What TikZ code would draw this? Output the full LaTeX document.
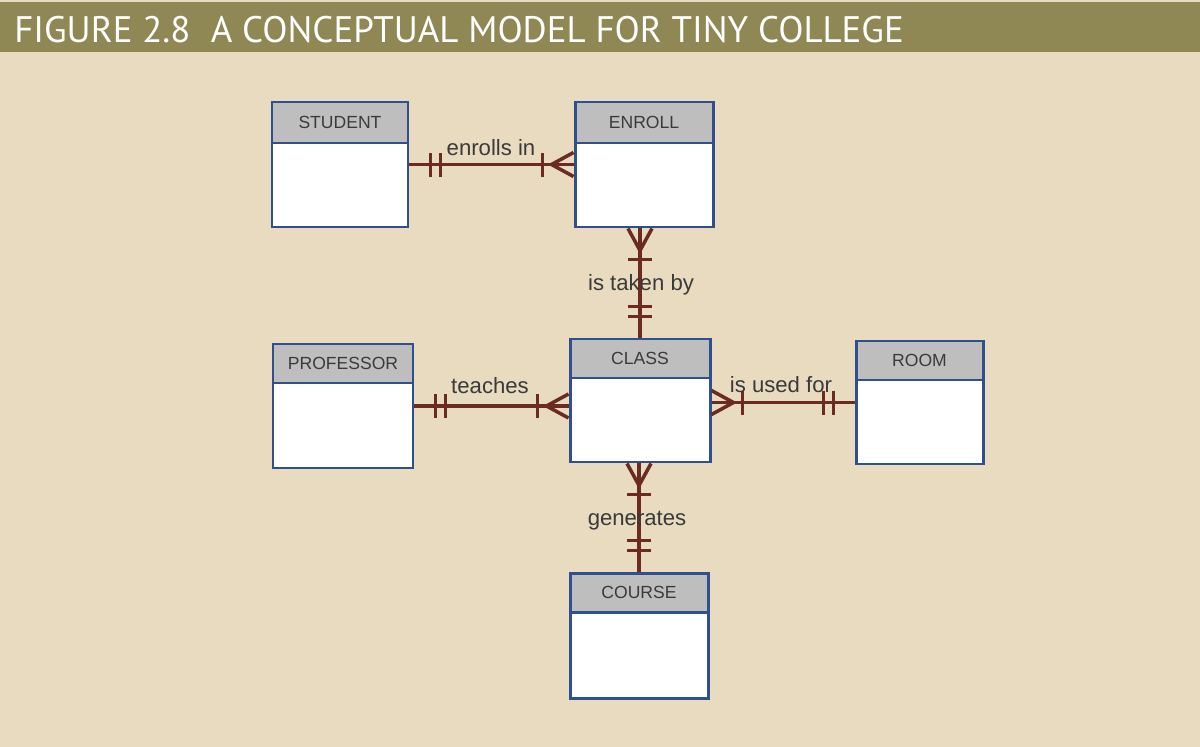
\documentclass[tikz,border=0pt]{standalone}
\usepackage{fontspec}
\setmainfont{Liberation Sans}
\newfontfamily\titlefont{PT Sans}
\usetikzlibrary{fit,calc,decorations.markings}
\definecolor{bgbeige}{HTML}{E8DBC0}
\definecolor{barolive}{HTML}{8F8855}
\definecolor{boxblue}{HTML}{2F4F8F}
\definecolor{headgray}{HTML}{BEBEBE}
\definecolor{linered}{HTML}{6B2A22}
\definecolor{txtgray}{HTML}{3A3A3A}
\tikzset{
  entbody/.style={draw=boxblue, fill=white, line width=1.7pt, inner sep=0pt},
  enthead/.style={draw=boxblue, fill=headgray, line width=1.7pt, inner sep=0pt},
  headtext/.style={text=txtgray, font=\fontsize{10}{12}\selectfont, inner sep=0pt},
  rellabel/.style={text=txtgray, font=\fontsize{12.6}{14}\selectfont, inner sep=0pt, anchor=base},
  barmark/.style={draw=linered, line width=2pt},
  rel/.style={draw=linered, line width=2.2pt, postaction={decorate},
    decoration={markings,
      mark=at position 0.42cm with {\draw[barmark] (0,-0.24cm) -- (0,0.24cm);},
      mark=at position 0.62cm with {\draw[barmark] (0,-0.24cm) -- (0,0.24cm);},
      mark=at position -0.62cm with {\draw[barmark] (0,-0.24cm) -- (0,0.24cm);},
      mark=at position -0.44cm with {\draw[barmark] (0,0) -- (0.44cm,0.24cm) (0,0) -- (0.44cm,-0.24cm);}
    }}
}
\newcommand{\entbox}[7]{%
  \node[entbody, fit={(#2,#3) (#4,#5)}] (#1) {};
  \node[enthead, fit={(#2,#3) (#4,#6)}] (#1-h) {};
  \node[headtext] (#1-t) at (#1-h.center) {#7};
}
\begin{document}
\begin{tikzpicture}[x=0.02cm,y=-0.02cm]
\fill[bgbeige] (0,0) rectangle (1200,747);
\useasboundingbox (0,0) rectangle (1200,747);
\fill[barolive] (0,2) rectangle (1200,52);
\node[anchor=base west, text=white, font=\titlefont\fontsize{21}{24}\selectfont, inner sep=0pt] (title) at (14,42) {FIGURE 2.8\hspace{0.55em}A CONCEPTUAL MODEL FOR TINY COLLEGE};

\entbox{student}{272}{102}{408}{227}{143}{STUDENT}
\entbox{enroll}{575}{102}{713}{227}{143}{ENROLL}
\entbox{professor}{273}{344}{413}{468}{383}{PROFESSOR}
\entbox{class}{570}{339}{710}{462}{378}{CLASS}
\entbox{room}{856}{341}{983}{464}{380}{ROOM}
\entbox{course}{570}{573}{708}{698}{612}{COURSE}

\draw[rel] (student.east) -- (enroll.west);
\draw[rel] (class.north) -- (class.north |- enroll.south);
\draw[rel] (professor.east) -- (professor.east -| class.west);
\draw[rel] (room.west) -- (room.west -| class.east);
\draw[rel] (course.north) -- (course.north |- class.south);

\node[rellabel] (l1) at (491,155) {enrolls in};
\node[rellabel] (l2) at (641,290) {is taken by};
\node[rellabel] (l3) at (490,393) {teaches};
\node[rellabel] (l4) at (781,392) {is used for};
\node[rellabel] (l5) at (637,525) {generates};
\end{tikzpicture}
\end{document}
